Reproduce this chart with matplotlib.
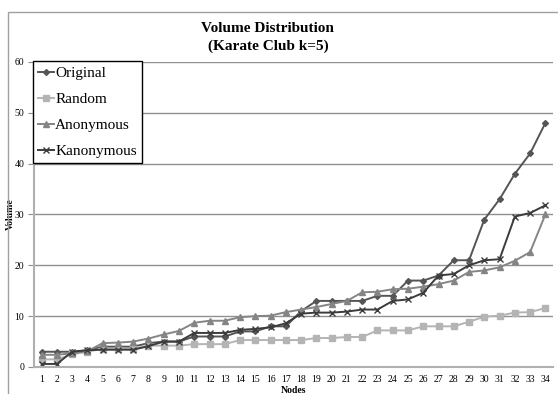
import numpy as np
import matplotlib
matplotlib.use("Agg")
import matplotlib.pyplot as plt
from matplotlib.patches import Rectangle

plt.rcParams['font.family'] = ['Liberation Serif', 'DejaVu Serif']

nodes = list(range(1, 35))
tick_labels = [str(n) for n in nodes]

original = [3, 3, 3, 3.3, 4, 4, 4, 4.7, 5, 5, 6, 6, 6, 7, 7, 8, 8,
            11, 13, 13, 13, 13, 14, 14, 17, 17, 18, 21, 21, 29, 33, 38, 42, 48]
random_ = [1.5, 1.5, 2.5, 3, 3.6, 3.6, 3.6, 4.2, 4.2, 4.2, 4.5, 4.5, 4.5, 5.3, 5.3, 5.3, 5.3,
           5.3, 5.7, 5.7, 5.9, 5.9, 7.2, 7.2, 7.2, 8, 8, 8, 8.9, 9.9, 10.1, 10.7, 10.8, 11.6]
anonymous = [2.4, 2.4, 2.7, 3.1, 4.7, 4.8, 5, 5.6, 6.4, 7.1, 8.7, 9.1, 9.1, 9.8, 10, 10.1, 10.8,
             11.3, 11.8, 12.4, 13, 14.7, 14.8, 15.3, 15.4, 15.8, 16.3, 17, 18.7, 19, 19.6, 20.9, 22.6, 30]
kanonymous = [0.6, 0.6, 3, 3.3, 3.4, 3.4, 3.4, 4.1, 5, 5, 6.7, 6.7, 6.7, 7.3, 7.5, 7.8, 8.6,
              10.5, 10.7, 10.7, 10.9, 11.3, 11.3, 13, 13.3, 14.6, 18, 18.3, 20, 21, 21.2, 29.6, 30.3, 31.8]

series = [
    ("Original", original, "#555555", "D", 3),
    ("Random", random_, "#b4b4b4", "s", 4),
    ("Anonymous", anonymous, "#858585", "^", 4.5),
    ("Kanonymous", kanonymous, "#3c3c3c", "x", 4.5),
]

fig = plt.figure(figsize=(5.58, 3.94), dpi=100)
# thin frame around the whole chart area
fig.patches.append(Rectangle((8 / 558, -0.05), 0.99, 1 - 12 / 394 + 0.05,
                             transform=fig.transFigure, fill=False,
                             edgecolor="#a0a0a0", linewidth=1.0))

ax = fig.add_axes([34 / 558, 1 - 367 / 394, 519 / 558, 305 / 394])

x = np.arange(len(nodes))
for name, vals, color, marker, ms in series:
    ax.plot(x, vals, color=color, marker=marker, markersize=ms,
            markeredgewidth=1.0, linewidth=1.4, label=name)

ax.set_xlim(-0.5, len(nodes) - 0.5)
ax.set_ylim(0, 60)
ax.set_yticks(range(0, 61, 10))
ax.set_xticks(x)
ax.set_xticklabels(tick_labels)
ax.tick_params(axis="x", length=0, labelsize=7, pad=6)
ax.tick_params(axis="y", length=4, direction="out", color="#909090", labelsize=7, pad=3)
ax.yaxis.grid(True, color="#909090", linewidth=1.0)
ax.set_axisbelow(True)
for side in ["top", "right"]:
    ax.spines[side].set_visible(False)
ax.spines["left"].set_color("#b0b0b0")
ax.spines["left"].set_linewidth(1.5)
ax.spines["bottom"].set_color("#b0b0b0")
ax.spines["bottom"].set_linewidth(1.5)

ax.set_xlabel("Nodes", fontsize=7, fontweight="bold", labelpad=1)
ax.set_ylabel("Volume", fontsize=7, fontweight="bold")
ax.yaxis.set_label_coords(-0.036, 0.5)

fig.text(0.48, 1 - 28 / 394, "Volume Distribution", ha="center", va="center",
         fontsize=11, fontweight="bold")
fig.text(0.48, 1 - 46 / 394, "(Karate Club k=5)", ha="center", va="center",
         fontsize=11, fontweight="bold")

leg = ax.legend(loc="upper left", bbox_to_anchor=(-0.002, 1.003), fontsize=11,
                frameon=True, fancybox=False, handlelength=1.0, handletextpad=0.1,
                borderpad=0.35, labelspacing=0.8, borderaxespad=0)
leg.get_frame().set_edgecolor("black")
leg.get_frame().set_linewidth(1.0)
leg.get_frame().set_alpha(1)

fig.savefig("out.png", dpi=100)
